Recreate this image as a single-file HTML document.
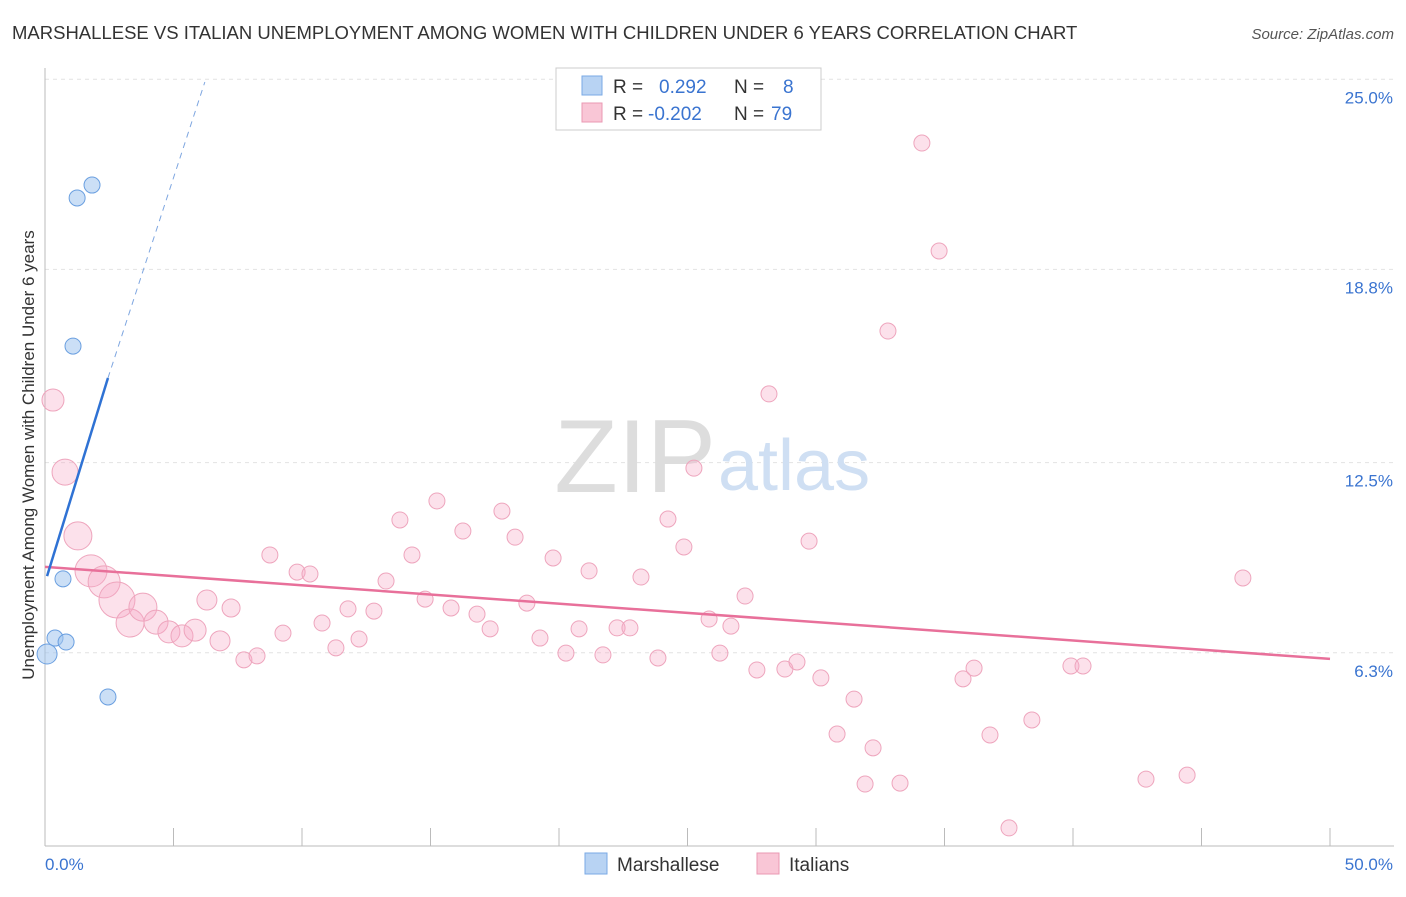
<!DOCTYPE html>
<html><head><meta charset="utf-8"><style>
body{margin:0;background:#fff;font-family:"Liberation Sans",sans-serif;}
svg text{font-family:"Liberation Sans",sans-serif;}
</style></head><body>
<svg id="chart" width="1406" height="892" viewBox="0 0 1406 892">
<text x="12" y="39" font-size="18.5" fill="#333">MARSHALLESE VS ITALIAN UNEMPLOYMENT AMONG WOMEN WITH CHILDREN UNDER 6 YEARS CORRELATION CHART</text>
<text x="1394" y="39" font-size="15" fill="#555" font-style="italic" text-anchor="end">Source: ZipAtlas.com</text>
<text x="0" y="0" transform="translate(34,455) rotate(-90)" font-size="17" fill="#333" text-anchor="middle">Unemployment Among Women with Children Under 6 years</text>
<g id="grid"></g>
<text x="716" y="492" font-size="104" fill="#ddd" text-anchor="end" font-family="Liberation Serif">ZIP</text>
<text x="718" y="490" font-size="72" fill="#cfdff3">atlas</text>
<g id="marks"></g>
<g>
<rect x="556" y="68" width="265" height="62" fill="#fff" stroke="#ccc"/>
<rect x="582" y="76" width="20" height="19" fill="#b8d3f3" stroke="#7aa9e4"/>
<rect x="582" y="103" width="20" height="19" fill="#f9c6d6" stroke="#ea98b3"/>
<text x="613" y="93" font-size="19" fill="#333">R = <tspan fill="#3a74d0" x="659">0.292</tspan><tspan fill="#333" x="734">N = </tspan><tspan fill="#3a74d0" x="783">8</tspan></text>
<text x="613" y="120" font-size="19" fill="#333">R = <tspan fill="#3a74d0" x="648">-0.202</tspan><tspan fill="#333" x="734">N = </tspan><tspan fill="#3a74d0" x="771">79</tspan></text>
</g>
<g>
<rect x="585" y="853" width="22" height="21" fill="#b8d3f3" stroke="#7aa9e4"/>
<text x="617" y="871" font-size="19" fill="#333">Marshallese</text>
<rect x="757" y="853" width="22" height="21" fill="#f9c6d6" stroke="#ea98b3"/>
<text x="789" y="871" font-size="19" fill="#333">Italians</text>
</g>
</svg>
<script>
const yTicks=[25.0,18.8,12.5,6.3];
const yTickLabels=["25.0%","18.8%","12.5%","6.3%"];
const xTickLabels=["0.0%","50.0%"];
const pinkX=[0.31,0.78,1.28,1.79,2.30,2.80,3.31,3.81,4.32,4.82,5.33,5.84,6.30,6.81,7.24,7.74,8.25,8.75,9.26,9.81,10.31,10.78,11.32,11.79,12.22,12.80,13.27,13.81,14.28,14.79,15.25,15.80,16.26,16.81,17.32,17.78,18.29,18.75,19.26,19.77,20.27,20.78,21.17,21.71,22.26,22.76,23.19,23.85,24.24,24.86,25.25,25.84,26.26,26.69,27.24,27.70,28.17,28.79,29.26,29.73,30.19,30.82,31.48,31.91,32.22,32.80,33.27,34.12,34.79,35.72,36.15,36.77,37.51,38.40,39.92,40.39,42.84,44.44,46.61];
const pinkY=[14.54,12.19,10.11,8.97,8.61,8.02,7.27,7.79,7.30,6.98,6.85,7.04,8.02,6.69,7.76,6.07,6.20,9.49,6.94,8.93,8.87,7.27,6.46,7.73,6.75,7.66,8.64,10.63,9.49,8.05,11.25,7.76,10.27,7.56,7.08,10.92,10.07,7.92,6.78,9.39,6.29,7.08,8.97,6.23,7.11,7.11,8.77,6.13,10.66,9.75,12.32,7.40,6.29,7.17,8.15,5.74,14.74,5.77,6.00,9.94,5.48,3.65,4.79,2.02,3.20,16.79,2.05,22.92,19.40,5.45,5.80,3.62,0.59,4.11,5.87,5.87,2.18,2.31,8.74];
const pinkR=[11,13,14,16,16,18,14,14,12,11,11,11,10,10,9];
const blueX=[1.83,1.25,1.09,0.70,0.39,0.82,0.08,2.45];
const blueY=[21.55,21.13,16.30,8.71,6.78,6.65,6.26,4.86];
const blueR=[8,8,8,8,8,8,10,8];
const pinkTrend=[[0,9.10],[50,6.10]];
const blueTrend=[[0.08,8.80],[2.45,15.26]];
const blueTrendExt=[[2.45,15.26],[6.22,24.91]];

const NS="http://www.w3.org/2000/svg";
const X0=45,X1=1330,Y0=846,PXPER=30.67;
function sx(v){return X0+(X1-X0)*v/50;}
function sy(v){return Y0-v*PXPER;}
function mk(t,a,p){const e=document.createElementNS(NS,t);for(const k in a)e.setAttribute(k,a[k]);p.appendChild(e);return e;}
const grid=document.getElementById('grid');
const marks=document.getElementById('marks');
yTicks.forEach((t,i)=>{
  const l=mk('line',{x1:45,x2:1394,y1:sy(t),y2:sy(t),stroke:'#e2e2e2','stroke-dasharray':'4,4'},grid);
  
  
  const tx=mk('text',{x:1393,y:sy(t)+24,'font-size':17,fill:'#3a74d0','text-anchor':'end'},grid);
  tx.textContent=yTickLabels[i];
  
  
});
const ax=mk('line',{x1:45,x2:45,y1:68,y2:846,stroke:'#bbb'},grid);


const bx=mk('line',{x1:45,x2:1394,y1:846,y2:846,stroke:'#bbb'},grid);


for(let i=0;i<=10;i++){
  const t=mk('line',{x1:sx(i*5),x2:sx(i*5),y1:828,y2:846,stroke:'#bbb'},grid);
  
  
}
const xl0=mk('text',{x:45,y:870,'font-size':17,fill:'#3a74d0'},grid);
xl0.textContent=xTickLabels[0];


const xl1=mk('text',{x:1393,y:870,'font-size':17,fill:'#3a74d0','text-anchor':'end'},grid);
xl1.textContent=xTickLabels[1];



pinkX.forEach((x,i)=>{
  const c=mk('circle',{cx:sx(x),cy:sy(pinkY[i]),r:pinkR[i]||8,fill:'rgba(246,170,198,0.35)',stroke:'#eea5bd','stroke-width':1},marks);
  
  
});
blueX.forEach((x,i)=>{
  const c=mk('circle',{cx:sx(x),cy:sy(blueY[i]),r:blueR[i],fill:'rgba(160,196,238,0.55)',stroke:'#6a9fe0','stroke-width':1},marks);
  
  
});
const pl=mk('line',{x1:sx(pinkTrend[0][0]),y1:sy(pinkTrend[0][1]),x2:sx(pinkTrend[1][0]),y2:sy(pinkTrend[1][1]),stroke:'#e8709a','stroke-width':2.5},marks);


const bl=mk('line',{x1:sx(blueTrend[0][0]),y1:sy(blueTrend[0][1]),x2:sx(blueTrend[1][0]),y2:sy(blueTrend[1][1]),stroke:'#2f72d4','stroke-width':2.5},marks);


const bd=mk('line',{x1:sx(blueTrendExt[0][0]),y1:sy(blueTrendExt[0][1]),x2:sx(blueTrendExt[1][0]),y2:sy(blueTrendExt[1][1]),stroke:'#7ea6e0','stroke-width':1,'stroke-dasharray':'6,5'},marks);


</script>
</body></html>
